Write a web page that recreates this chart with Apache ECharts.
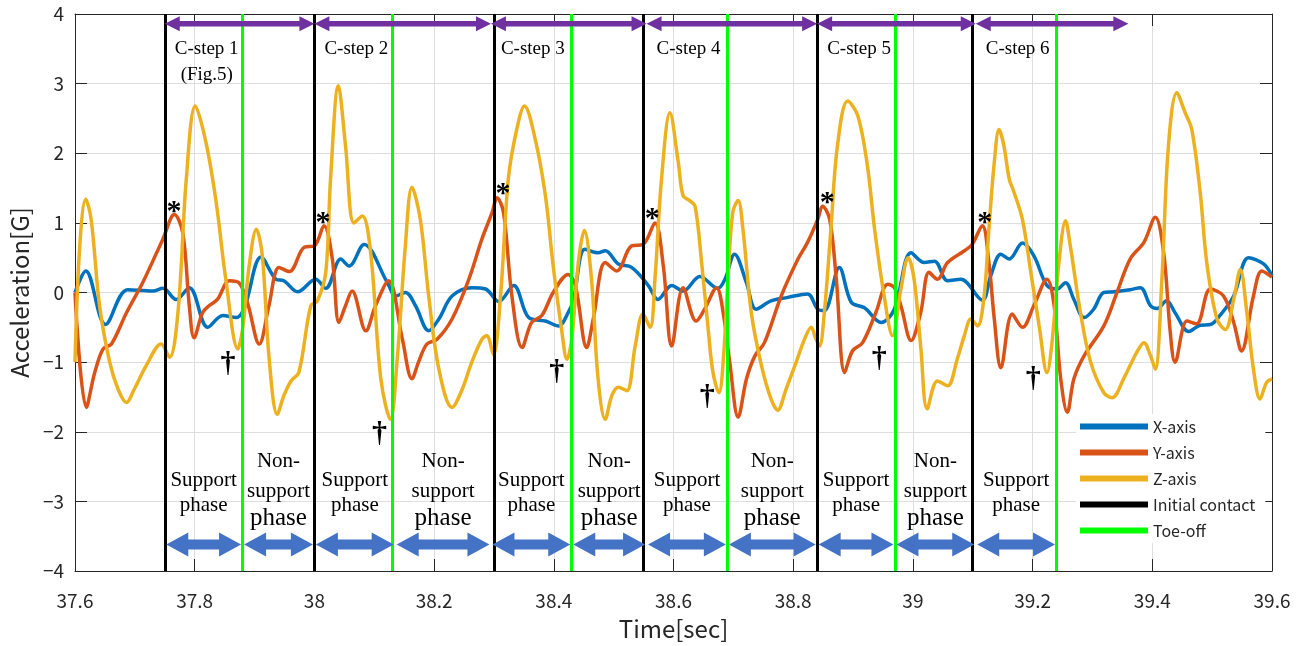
<!DOCTYPE html>
<html>
<head>
<meta charset="utf-8">
<script src="https://cdn.jsdelivr.net/npm/echarts@6/dist/echarts.min.js"></script>
<style>
  html, body { margin: 0; padding: 0; background: #fff; }
  #main { width: 1304px; height: 646px; }
</style>
</head>
<body>
<div id="main"></div>
<script>
// acceleration [G] against time [sec]
const xAxisAcc = [[37.6,0.0],[37.618,0.31],[37.651,-0.46],[37.688,0.04],[37.73,0.02],[37.747,0.06],[37.769,-0.1],[37.791,0.07],[37.822,-0.5],[37.847,-0.33],[37.869,-0.36],[37.883,-0.22],[37.911,0.51],[37.936,0.19],[37.949,0.17],[37.972,0.01],[38.002,0.19],[38.019,0.06],[38.044,0.48],[38.058,0.38],[38.083,0.69],[38.122,0.14],[38.136,-0.05],[38.152,0.0],[38.169,-0.19],[38.191,-0.55],[38.208,-0.38],[38.23,-0.05],[38.263,0.07],[38.286,0.05],[38.308,-0.13],[38.333,0.1],[38.358,-0.36],[38.386,-0.41],[38.408,-0.48],[38.424,-0.29],[38.433,-0.1],[38.452,0.62],[38.474,0.57],[38.486,0.6],[38.508,0.41],[38.53,0.36],[38.558,0.1],[38.574,-0.1],[38.597,0.1],[38.616,0.02],[38.644,0.23],[38.674,0.06],[38.686,0.19],[38.702,0.55],[38.722,0.14],[38.738,-0.24],[38.763,-0.12],[38.791,-0.07],[38.824,-0.02],[38.841,-0.24],[38.852,-0.26],[38.877,0.36],[38.897,-0.14],[38.919,-0.22],[38.947,-0.43],[38.969,-0.24],[38.997,0.57],[39.019,0.43],[39.036,0.45],[39.058,0.17],[39.08,0.19],[39.116,-0.11],[39.13,0.24],[39.147,0.55],[39.161,0.48],[39.183,0.71],[39.202,0.53],[39.224,0.1],[39.241,0.05],[39.255,0.14],[39.269,-0.1],[39.286,-0.36],[39.302,-0.24],[39.319,0.0],[39.336,0.01],[39.363,0.04],[39.38,0.07],[39.397,-0.19],[39.408,-0.23],[39.424,-0.12],[39.438,-0.29],[39.461,-0.56],[39.48,-0.47],[39.497,-0.46],[39.513,-0.33],[39.536,-0.05],[39.561,0.5],[39.586,0.41],[39.6,0.24]];

const yAxisAcc = [[37.6,0.0],[37.619,-1.65],[37.633,-1.15],[37.647,-0.81],[37.661,-0.74],[37.686,-0.29],[37.713,0.14],[37.747,0.77],[37.766,1.12],[37.78,0.86],[37.791,-0.19],[37.799,-0.65],[37.813,-0.29],[37.824,-0.19],[37.838,-0.1],[37.858,0.17],[37.874,0.14],[37.888,-0.14],[37.908,-0.74],[37.924,-0.19],[37.941,0.36],[37.958,0.3],[37.983,0.65],[38.0,0.67],[38.016,0.96],[38.03,0.48],[38.041,-0.43],[38.052,-0.19],[38.063,0.02],[38.086,-0.55],[38.102,-0.19],[38.124,0.17],[38.147,-0.67],[38.163,-1.24],[38.174,-1.0],[38.188,-0.74],[38.205,-0.67],[38.23,-0.38],[38.258,0.19],[38.28,0.77],[38.297,1.15],[38.305,1.36],[38.316,1.15],[38.33,-0.05],[38.347,-0.79],[38.363,-0.43],[38.38,-0.33],[38.399,0.0],[38.424,0.26],[38.436,0.1],[38.455,-0.79],[38.466,-0.38],[38.486,0.43],[38.505,0.31],[38.53,0.67],[38.549,0.69],[38.569,1.0],[38.583,0.38],[38.597,-0.77],[38.616,0.07],[38.638,-0.41],[38.652,-0.24],[38.672,0.07],[38.683,-0.29],[38.694,-1.0],[38.708,-1.79],[38.722,-1.24],[38.736,-0.91],[38.752,-0.72],[38.78,-0.05],[38.808,0.48],[38.824,0.72],[38.841,1.05],[38.849,1.24],[38.861,1.05],[38.872,0.19],[38.886,-1.15],[38.899,-0.84],[38.916,-0.72],[38.938,-0.29],[38.958,0.12],[38.969,0.07],[38.98,-0.19],[38.997,-0.69],[39.013,-0.29],[39.027,0.29],[39.041,0.19],[39.058,0.43],[39.086,0.6],[39.099,0.69],[39.116,0.96],[39.127,0.43],[39.136,-0.38],[39.147,-1.08],[39.166,-0.31],[39.183,-0.5],[39.202,-0.19],[39.224,0.19],[39.236,-0.19],[39.247,-1.24],[39.258,-1.72],[39.269,-1.24],[39.286,-0.91],[39.319,-0.48],[39.341,0.0],[39.363,0.48],[39.386,0.72],[39.405,1.08],[39.419,0.57],[39.43,-0.57],[39.438,-1.0],[39.458,-0.41],[39.474,-0.45],[39.497,0.05],[39.519,-0.05],[39.536,-0.43],[39.549,-0.84],[39.569,-0.05],[39.583,0.31],[39.6,0.22]];

const zAxisAcc = [[37.6,-1.0],[37.608,0.67],[37.618,1.34],[37.627,1.05],[37.641,-0.19],[37.658,-1.0],[37.672,-1.39],[37.686,-1.58],[37.699,-1.39],[37.719,-1.05],[37.744,-0.74],[37.758,-0.93],[37.772,-0.29],[37.786,1.63],[37.801,2.68],[37.819,2.15],[37.836,1.29],[37.852,0.19],[37.872,-0.81],[37.88,-0.53],[37.891,0.38],[37.903,0.91],[37.913,0.53],[37.924,-0.91],[37.938,-1.75],[37.949,-1.48],[37.961,-1.27],[37.974,-1.15],[37.994,-0.19],[38.005,-0.12],[38.019,0.29],[38.027,1.63],[38.04,2.97],[38.052,2.11],[38.066,1.0],[38.08,1.1],[38.094,0.57],[38.111,-1.24],[38.127,-1.82],[38.138,-1.0],[38.152,0.67],[38.163,1.51],[38.177,1.05],[38.191,-0.05],[38.208,-1.1],[38.23,-1.65],[38.247,-1.39],[38.263,-1.0],[38.28,-0.67],[38.288,-0.62],[38.299,-0.89],[38.311,-0.05],[38.324,1.63],[38.338,2.34],[38.351,2.68],[38.369,2.2],[38.386,1.39],[38.399,0.38],[38.413,-0.53],[38.422,-0.96],[38.43,-0.67],[38.441,0.43],[38.451,0.89],[38.463,0.19],[38.474,-1.24],[38.486,-1.82],[38.497,-1.48],[38.508,-1.36],[38.522,-1.41],[38.536,-0.77],[38.549,-0.31],[38.561,-0.5],[38.569,0.19],[38.58,1.63],[38.594,2.58],[38.608,1.87],[38.616,1.39],[38.627,1.32],[38.636,1.24],[38.647,0.43],[38.658,-0.53],[38.666,-1.15],[38.676,-1.44],[38.683,-1.0],[38.691,0.19],[38.699,1.15],[38.708,1.32],[38.716,0.91],[38.73,-0.29],[38.747,-1.05],[38.763,-1.53],[38.774,-1.69],[38.788,-1.39],[38.805,-1.0],[38.819,-0.67],[38.83,-0.5],[38.838,-0.67],[38.844,-0.77],[38.852,-0.29],[38.863,0.91],[38.874,2.11],[38.891,2.75],[38.908,2.54],[38.924,1.82],[38.936,0.91],[38.952,-0.05],[38.966,-0.62],[38.98,0.05],[38.992,0.5],[39.002,0.19],[39.013,-0.77],[39.024,-1.67],[39.041,-1.27],[39.058,-1.34],[39.074,-0.96],[39.086,-0.62],[39.097,-0.38],[39.108,-0.48],[39.119,-0.05],[39.127,0.91],[39.136,1.87],[39.144,2.34],[39.152,2.11],[39.161,1.63],[39.169,1.44],[39.183,1.05],[39.197,0.29],[39.211,-0.48],[39.224,-1.15],[39.233,-0.67],[39.244,0.43],[39.255,1.03],[39.263,0.67],[39.28,-0.29],[39.297,-1.0],[39.319,-1.44],[39.333,-1.51],[39.352,-1.24],[39.374,-0.86],[39.386,-0.72],[39.397,-0.91],[39.405,-1.1],[39.416,0.19],[39.427,2.11],[39.441,2.87],[39.455,2.58],[39.466,2.34],[39.48,1.44],[39.491,0.43],[39.508,-0.38],[39.522,-0.53],[39.536,-0.1],[39.547,0.33],[39.558,-0.29],[39.569,-1.1],[39.58,-1.53],[39.591,-1.29],[39.6,-1.24]];

// gait events [sec]
const initialContact = [37.75, 38.0, 38.295, 38.555, 38.84, 39.105];
const toeOff = [37.88, 38.135, 38.43, 38.69, 38.97, 39.24];
const lastStepEnd = 39.36;
const cStepNames = ['C-step 1', 'C-step 2', 'C-step 3', 'C-step 4', 'C-step 5', 'C-step 6'];

// peak (*) and toe-off (†) markers [sec, G]
const asteriskPts = [[37.7655, 1.27], [38.0145, 1.12], [38.315, 1.53], [38.5645, 1.17], [38.8567, 1.395], [39.12, 1.12]];
const daggerPts = [[37.8555, -1.03], [38.1088, -2.03], [38.405, -1.147], [38.6562, -1.505], [38.9438, -0.956], [39.2012, -1.243]];

const serif = '"Liberation Serif", "Times New Roman", serif';
const gothic = '"Noto Sans CJK JP", "Noto Sans", sans-serif';
const frame = '#262626';

// phase spans built from the event lists
const supportSpans = initialContact.map((t, i) => [t, toeOff[i]]);
const nonSupportSpans = toeOff.slice(0, -1).map((t, i) => [t, initialContact[i + 1]]);
const stepSpans = initialContact.map((t, i) => [t, i + 1 < initialContact.length ? initialContact[i + 1] : lastStepEnd]);

function arrowPoints(x0, x1, y, hl, hh, sh) {
  return [[x0, y], [x0 + hl, y - hh], [x0 + hl, y - sh], [x1 - hl, y - sh], [x1 - hl, y - hh],
          [x1, y], [x1 - hl, y + hh], [x1 - hl, y + sh], [x0 + hl, y + sh], [x0 + hl, y + hh]];
}

function arrowSeries(spans, level, color, hl, hh, sh, inset) {
  return {
    type: 'custom', coordinateSystem: 'cartesian2d', silent: true, z: 6,
    data: spans.map(s => [s[0], s[1]]),
    renderItem: function (params, api) {
      const a = api.coord([api.value(0), level]);
      const b = api.coord([api.value(1), level]);
      return { type: 'polygon', shape: { points: arrowPoints(a[0] + inset, b[0] - inset, a[1], hl, hh, sh) }, style: { fill: color } };
    }
  };
}

function textSeries(points, lines) {
  // lines: [{text, dv, dx, size, align, weight}] relative to each data point
  return {
    type: 'custom', coordinateSystem: 'cartesian2d', silent: true, z: 7,
    data: points,
    renderItem: function (params, api) {
      const t = api.value(0), v = api.value(1);
      const children = lines(params.dataIndex).map(l => {
        const p = api.coord([t, v + (l.dv || 0)]);
        return {
          type: 'text', x: p[0] + (l.dx || 0), y: p[1],
          style: { text: l.text, fill: '#000', font: (l.weight || 'normal') + ' ' + l.size + 'px ' + serif,
                   align: l.align || 'center', verticalAlign: 'middle' }
        };
      });
      return { type: 'group', children: children };
    }
  };
}

const chart = echarts.init(document.getElementById('main'));

const curve = (name, data, color) => ({
  name: name, type: 'line', data: data, smooth: 0.35, showSymbol: false, z: 3,
  itemStyle: { color: color }, lineStyle: { color: color, width: 3.5 }
});

const eventLines = (name, times, color) => ({
  name: name, type: 'line', data: [], z: 5,
  itemStyle: { color: color },
  markLine: {
    silent: true, symbol: ['none', 'none'], label: { show: false },
    lineStyle: { color: color, width: 3, type: 'solid' },
    data: times.map(t => ({ xAxis: t }))
  }
});

const supportMid = supportSpans.map(s => [(s[0] + s[1]) / 2, 0]);
const nonSupportMid = nonSupportSpans.map(s => [(s[0] + s[1]) / 2, 0]);

const boxAxis = {
  axisLine: { show: true, onZero: false, lineStyle: { color: frame, width: 1 } },
  axisTick: { show: true, inside: true, length: 12, lineStyle: { color: frame } }
};

chart.setOption({
  animation: false,
  backgroundColor: '#fff',
  grid: { left: 72, right: 32, top: 14, bottom: 74 },
  legend: {
    data: ['X-axis', 'Y-axis', 'Z-axis', 'Initial contact', 'Toe-off'],
    orient: 'vertical', left: 1076, top: 414,
    icon: 'rect', itemWidth: 68, itemHeight: 6, itemGap: 9,
    backgroundColor: '#fff', padding: [4, 10, 4, 4],
    textStyle: { fontFamily: gothic, fontSize: 16, color: frame, lineHeight: 17 }
  },
  xAxis: [Object.assign({
    type: 'value', min: 37.6, max: 39.6, interval: 0.2,
    name: 'Time[sec]', nameLocation: 'middle', nameGap: 46,
    nameTextStyle: { fontFamily: gothic, fontSize: 24, color: frame },
    axisLabel: { fontFamily: gothic, fontSize: 19, color: frame, margin: 20 },
    splitLine: { show: true, lineStyle: { color: '#dedede', width: 1 } }
  }, boxAxis), Object.assign({
    type: 'value', position: 'top', min: 37.6, max: 39.6, interval: 0.2,
    axisLabel: { show: false }, splitLine: { show: false }
  }, boxAxis)],
  yAxis: [Object.assign({
    type: 'value', min: -4, max: 4, interval: 1,
    name: 'Acceleration[G]', nameLocation: 'middle', nameGap: 38,
    nameTextStyle: { fontFamily: gothic, fontSize: 24, color: frame },
    axisLabel: { fontFamily: gothic, fontSize: 19, color: frame, margin: 11,
      formatter: v => (v < 0 ? '\u2212' + (-v) : String(v)) },
    splitLine: { show: true, lineStyle: { color: '#dedede', width: 1 } }
  }, boxAxis), Object.assign({
    type: 'value', position: 'right', min: -4, max: 4, interval: 1,
    axisLabel: { show: false }, splitLine: { show: false }
  }, boxAxis)],
  series: [
    curve('X-axis', xAxisAcc, '#0072BD'),
    curve('Y-axis', yAxisAcc, '#D95319'),
    curve('Z-axis', zAxisAcc, '#EDB120'),
    eventLines('Initial contact', initialContact, '#000000'),
    eventLines('Toe-off', toeOff, '#00FF00'),
    arrowSeries(stepSpans, 3.86, '#7030A0', 15, 7.5, 2.7, 0),
    arrowSeries(supportSpans.concat(nonSupportSpans), -3.62, '#4472C4', 22, 12, 5, 1.5),
    // C-step titles
    textSeries(initialContact.map(t => [t, 3.49]), i => {
      const l = [{ text: cStepNames[i], size: 19, align: 'left', dx: 10 }];
      if (i === 0) l.push({ text: '(Fig.5)', size: 19, dx: 42, dv: -0.36 });
      return l;
    }),
    // phase labels
    textSeries(supportMid, () => [
      { text: 'Support', size: 21, dv: -2.70 },
      { text: 'phase', size: 21, dv: -3.06 }
    ]),
    textSeries(nonSupportMid, () => [
      { text: 'Non-', size: 21, dv: -2.433 },
      { text: 'support', size: 21, dv: -2.859 },
      { text: 'phase', size: 25, dv: -3.25 }
    ]),
    // * and † markers
    textSeries(asteriskPts, () => [{ text: '*', size: 30, weight: 'bold', dv: -0.12 }]),
    textSeries(daggerPts, () => [{ text: '\u2020', size: 30, weight: 'bold' }])
  ]
});

window.addEventListener('resize', function () { chart.resize(); });
</script>
</body>
</html>
